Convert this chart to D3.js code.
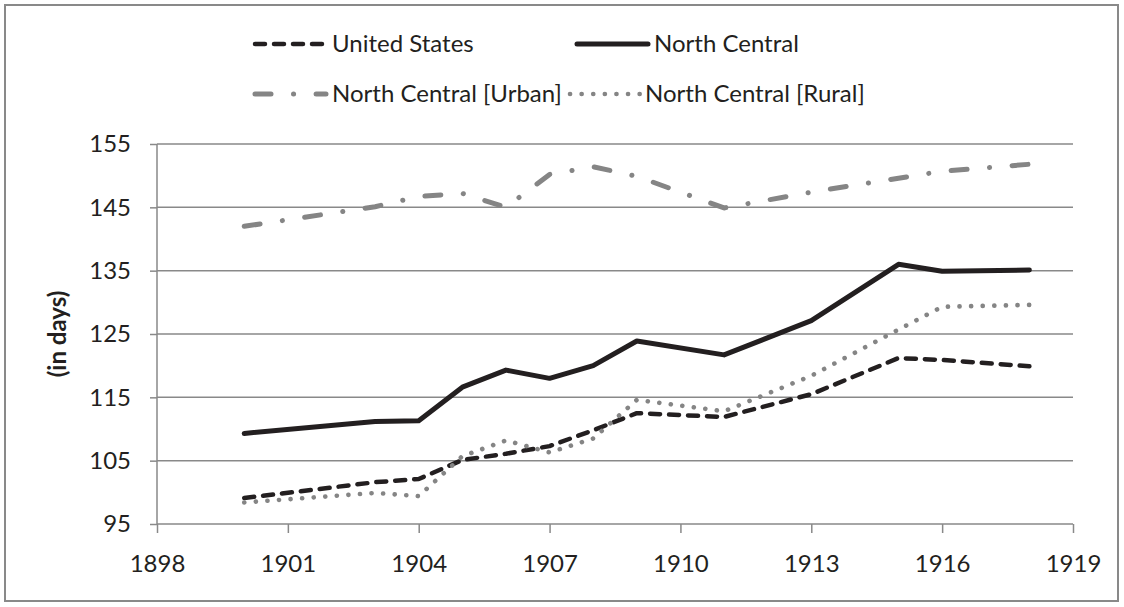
<!DOCTYPE html>
<html>
<head>
<meta charset="utf-8">
<script src="https://cdn.jsdelivr.net/npm/d3@7"></script>
<style>
  body { margin: 0; background: #fff; }
  svg { display: block; font-family: Lato, "Open Sans", sans-serif; }
</style>
</head>
<body>
<svg id="chart"></svg>
<script>
var width = 1124,
    height = 607;

// data (length of school term, in days)
var years = [1900, 1903, 1904, 1905, 1906, 1907, 1908, 1909, 1911, 1913, 1915, 1916, 1918];
var unitedStates = [99.1, 101.6, 102.1, 105.1, 106.1, 107.3, 109.8, 112.5, 111.9, 115.5, 121.2, 120.9, 119.9];
var northCentral = [109.3, 111.2, 111.3, 116.6, 119.3, 118.0, 120.0, 123.9, 121.7, 127.1, 136.0, 134.9, 135.1];
var ncUrban = [142.0, 145.1, 146.7, 147.2, 145.0, 150.2, 151.4, 149.9, 144.9, 147.4, 149.6, 150.7, 151.8];
var ncRural = [98.4, 99.9, 99.4, 105.7, 108.2, 106.3, 108.5, 114.6, 112.8, 118.4, 125.7, 129.3, 129.6];

var seriesNames = ["United States", "North Central", "North Central [Urban]", "North Central [Rural]"];
var xTicks = [1898, 1901, 1904, 1907, 1910, 1913, 1916, 1919];
var yTicks = [95, 105, 115, 125, 135, 145, 155];

var dark = "#231f20",
    gray = "#898989",
    lineGray = "#858585",
    textColor = "#231f20",
    fontSize = "24px";

var styles = [
  { color: dark, width: 4.5, dash: "10,9" },
  { color: dark, width: 5, dash: null },
  { color: lineGray, width: 5, dash: "16,22.5,0.1,22.5" },
  { color: lineGray, width: 4.6, dash: "0.1,11.5" }
];

var series = [unitedStates, northCentral, ncUrban, ncRural].map(function(vals, i) {
  return {
    name: seriesNames[i],
    style: styles[i],
    values: years.map(function(y, j) { return { year: y, value: vals[j] }; })
  };
});

var svg = d3.select("#chart")
    .attr("width", width)
    .attr("height", height);

// outer frame
svg.append("rect")
    .attr("x", 5).attr("y", 5)
    .attr("width", 1113).attr("height", 596)
    .attr("fill", "none")
    .attr("stroke", gray)
    .attr("stroke-width", 2);

var x = d3.scaleLinear().domain([1898, 1919]).range([157, 1073]);
var y = d3.scaleLinear().domain([95, 155]).range([524, 144]);

// gridlines
svg.append("g")
    .attr("class", "grid")
  .selectAll("line")
  .data(yTicks.slice(1))
  .enter().append("line")
    .attr("x1", x(1898)).attr("x2", x(1919))
    .attr("y1", function(d) { return y(d); })
    .attr("y2", function(d) { return y(d); })
    .attr("stroke", gray)
    .attr("stroke-width", 1.5);

// axes
var xAxis = svg.append("g")
    .attr("transform", "translate(0," + y(95) + ")")
    .call(d3.axisBottom(x).tickValues(xTicks).tickSize(9).tickPadding(22).tickFormat(d3.format("d")));

var yAxis = svg.append("g")
    .attr("transform", "translate(" + x(1898) + ",0)")
    .call(d3.axisLeft(y).tickValues(yTicks).tickSize(7).tickPadding(19).tickFormat(d3.format("d")));

[xAxis, yAxis].forEach(function(ax) {
  ax.select(".domain").attr("stroke", gray).attr("stroke-width", 1.5);
  ax.selectAll(".tick line").attr("stroke", gray).attr("stroke-width", 1.5);
  ax.selectAll(".tick text")
      .attr("fill", textColor)
      .style("font-size", fontSize)
      .style("font-family", "Lato, 'Open Sans', sans-serif");
});
xAxis.select(".domain").attr("d", "M" + x(1898) + ",0H" + x(1919));
yAxis.select(".domain").attr("d", "M0," + y(95) + "V" + y(155));

// axis title
svg.append("text")
    .attr("transform", "translate(58," + y(125) + ") rotate(-90)")
    .attr("text-anchor", "middle")
    .attr("dy", "0.35em")
    .attr("fill", textColor)
    .style("font-size", fontSize)
    .style("font-weight", "bold")
    .text("(in days)");

// lines
var line = d3.line()
    .x(function(d) { return x(d.year); })
    .y(function(d) { return y(d.value); });

svg.append("g")
    .attr("class", "lines")
  .selectAll("path")
  .data(series)
  .enter().append("path")
    .attr("d", function(d) { return line(d.values); })
    .attr("fill", "none")
    .attr("stroke", function(d) { return d.style.color; })
    .attr("stroke-width", function(d) { return d.style.width; })
    .attr("stroke-dasharray", function(d) { return d.style.dash; })
    .attr("stroke-linecap", "round")
    .attr("stroke-linejoin", "round");

// legend
var legendPos = [
  { x: 255, y: 44 },
  { x: 577, y: 44 },
  { x: 255, y: 94 },
  { x: 570, y: 94 }
];

var legend = svg.append("g")
    .attr("class", "legend")
  .selectAll("g")
  .data(series)
  .enter().append("g")
    .attr("transform", function(d, i) { return "translate(" + legendPos[i].x + "," + legendPos[i].y + ")"; });

legend.append("line")
    .attr("x1", 0)
    .attr("x2", function(d, i) { return i === 3 ? 72 : 71; })
    .attr("stroke", function(d) { return d.style.color; })
    .attr("stroke-width", function(d) { return d.style.width; })
    .attr("stroke-dasharray", function(d) { return d.style.dash; })
    .attr("stroke-linecap", "round");

legend.append("text")
    .attr("x", function(d, i) { return i === 3 ? 75 : 77; })
    .attr("dy", "0.35em")
    .attr("fill", textColor)
    .style("font-size", fontSize)
    .text(function(d) { return d.name; });
</script>
</body>
</html>
